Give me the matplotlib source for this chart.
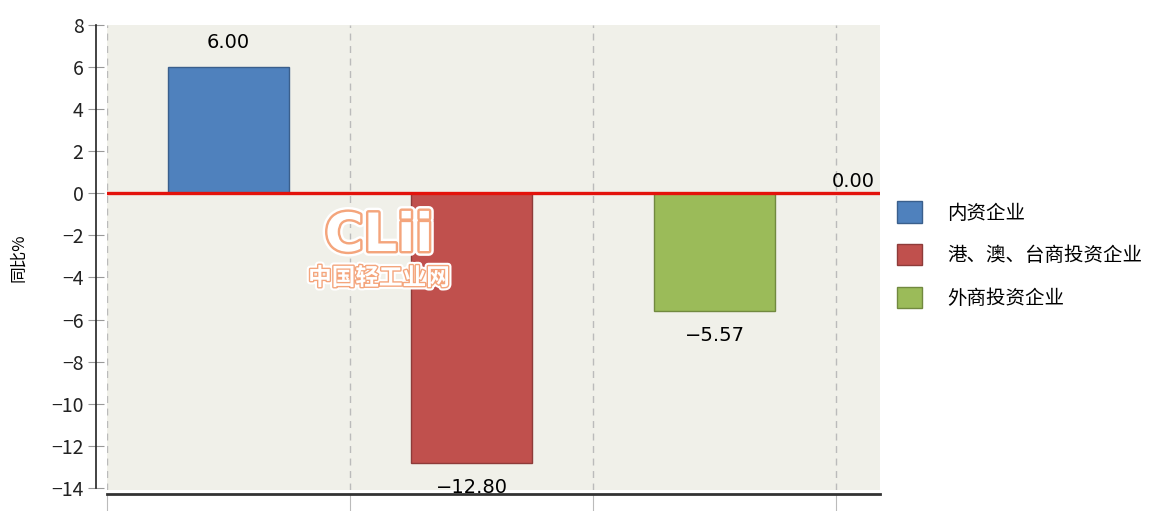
import matplotlib
matplotlib.use("Agg")
import matplotlib.pyplot as plt
import matplotlib.patheffects as pe
from matplotlib.patches import Patch

plt.rcParams['font.family'] = ['Noto Sans CJK SC', 'DejaVu Sans']

categories = ["内资企业", "港、澳、台商投资企业", "外商投资企业"]
values = [6.00, -12.80, -5.57]
value_labels = ["6.00", "-12.80", "-5.57"]
colors = ["#4F81BD", "#C0504D", "#9BBB59"]
edges = ["#3A5F8C", "#8E3B39", "#71893F"]
ref_value = 0.00
ref_label = "0.00"
yticks = [8, 6, 4, 2, 0, -2, -4, -6, -8, -10, -12, -14]
ylabel = "同比%"

fig = plt.figure(figsize=(11.65, 5.11), dpi=100)
ax = fig.add_axes([107/1165, 1-490/511, (880-107)/1165, (490-25)/511])
ax.set_facecolor("#F0F0E9")

x = list(range(len(values)))
ax.bar(x, values, width=0.5, color=colors, edgecolor=edges, linewidth=1, zorder=3)
ax.axhline(ref_value, color="#E3120B", linewidth=2.4, zorder=4)

ax.set_xlim(-0.5, 2.68)
ax.set_ylim(-14.1, 8)
ax.set_yticks(yticks)
ax.set_yticklabels([str(t).replace("-", "−") for t in yticks])
for lab in ax.get_yticklabels():
    lab.set_fontfamily(['DejaVu Sans'])
ax.set_xticks([-0.5, 0.5, 1.5, 2.5])
ax.set_xticklabels([])
ax.grid(axis='x', color="#BBBBBB", linestyle=(0, (5, 4)), linewidth=1, zorder=1)
ax.xaxis.get_gridlines()[0].set_visible(False)

for s in ['top', 'right']:
    ax.spines[s].set_visible(False)
ax.spines['left'].set_position(('outward', 8))
ax.spines['left'].set_color("#222222")
ax.spines['left'].set_linewidth(1.2)
ax.spines['left'].set_bounds(-14, 8)
ax.spines['bottom'].set_position(('outward', 3))
ax.spines['bottom'].set_color("#333333")
ax.spines['bottom'].set_linewidth(2)
ax.tick_params(axis='y', direction='inout', length=12, color="#999999", pad=3,
               labelcolor="#222222", labelsize=14)
ax.tick_params(axis='x', direction='out', length=14, color="#BBBBBB")

ax.set_ylabel(ylabel, fontsize=12)
ax.yaxis.set_label_coords((27 - 107) / 773, 0.5)

for xi, v, lab in zip(x, values, value_labels):
    if v >= 0:
        ax.annotate(lab.replace("-", "−"), (xi, v), xytext=(0, 11), textcoords='offset points',
                    ha='center', va='bottom', fontsize=14, family=['DejaVu Sans'], zorder=5)
    else:
        ax.annotate(lab.replace("-", "−"), (xi, v), xytext=(0, -11), textcoords='offset points',
                    ha='center', va='top', fontsize=14, family=['DejaVu Sans'], zorder=5)

ax.annotate(ref_label, (2.68, ref_value), xytext=(-4, 2), textcoords='offset points',
            ha='right', va='bottom', fontsize=14, family=['DejaVu Sans'], zorder=5)

# watermark
wm_fx = [pe.withStroke(linewidth=7, foreground="white"),
         pe.withStroke(linewidth=3.5, foreground="#F4A57C")]
fig.text(379/1165, 1-236/511, "CLii", fontsize=38, color="white", ha='center', va='center',
         family=['DejaVu Sans'], fontweight='bold', path_effects=wm_fx, zorder=10)
fig.text(379/1165, 1-278/511, "中国轻工业网", fontsize=17, color="white", ha='center', va='center',
         fontweight='bold', path_effects=[pe.withStroke(linewidth=5, foreground="white"),
                                          pe.withStroke(linewidth=2, foreground="#F4A57C")],
         zorder=10)

handles = [Patch(facecolor=c, edgecolor=e) for c, e in zip(colors, edges)]
fig.legend(handles, categories, loc='upper left', bbox_to_anchor=(879/1165, 1-184/511),
           frameon=False, fontsize=14, handlelength=1.3, handleheight=1.3,
           handletextpad=1.3, labelspacing=1.05)

fig.savefig("out.png", dpi=100)
